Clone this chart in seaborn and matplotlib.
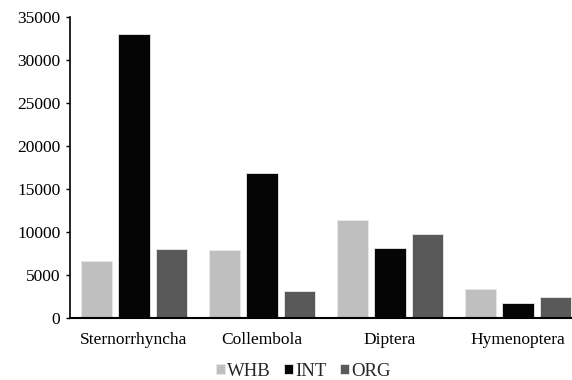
import matplotlib
matplotlib.use("Agg")
import matplotlib.pyplot as plt
import seaborn as sns
import pandas as pd

categories = ["Sternorrhyncha", "Collembola", "Diptera", "Hymenoptera"]
series = ["WHB", "INT", "ORG"]
whb = [6600, 7900, 11400, 3400]
int_ = [33000, 16900, 8100, 1700]
org = [8000, 3200, 9800, 2400]
colors = ["#bfbfbf", "#050505", "#595959"]

rows = []
for s, vals in zip(series, [whb, int_, org]):
    for c, v in zip(categories, vals):
        rows.append({"cat": c, "series": s, "value": v})
df = pd.DataFrame(rows)

sns.set_theme(style="white")
plt.rcParams["font.family"] = ["Liberation Serif", "DejaVu Serif"]

fig = plt.figure(figsize=(5.72, 3.8), dpi=100)
ax = fig.add_axes([70 / 572, 0.163, 512 / 572, 0.792])
sns.barplot(data=df, x="cat", y="value", hue="series", palette=colors,
            width=0.87, gap=0.16, edgecolor="#e8e8e8", linewidth=0.6, ax=ax, errorbar=None)

ax.set_xlim(-0.5, 3.5)
ax.set_ylim(0, 35000)
ax.set_yticks(range(0, 35001, 5000))
ax.set_xlabel("")
ax.set_ylabel("")
ax.tick_params(axis="both", labelsize=12.5, colors="black")
ax.tick_params(axis="y", length=3, width=1, direction="out", left=True, pad=4)
ax.tick_params(axis="x", length=0, pad=10)
for sp in ["top", "right"]:
    ax.spines[sp].set_visible(False)
ax.spines["left"].set_color("black")
ax.spines["left"].set_linewidth(1.2)
ax.spines["bottom"].set_color("black")
ax.spines["bottom"].set_linewidth(1.5)

ax.legend(loc="center", bbox_to_anchor=(303 / 572, 1 - 371 / 380),
          bbox_transform=fig.transFigure, ncol=3, frameon=False,
          fontsize=13.5, handlelength=0.5, handleheight=0.5, handletextpad=0.1,
          columnspacing=0.7, borderpad=0)

fig.savefig("out.png", dpi=100)
